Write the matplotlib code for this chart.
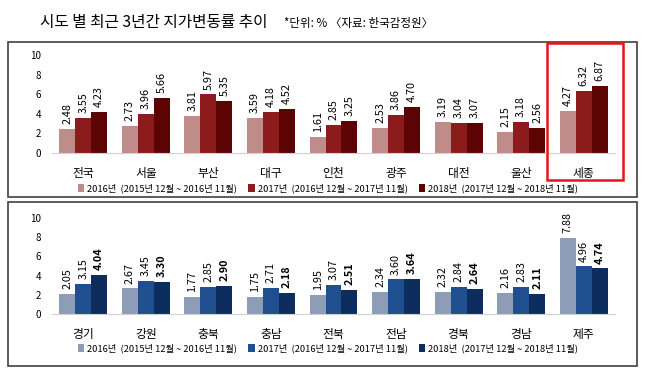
import numpy as np
import matplotlib
matplotlib.use("Agg")
import matplotlib.pyplot as plt
from matplotlib.patches import Rectangle

plt.rcParams['font.family'] = ['Noto Sans CJK KR', 'DejaVu Sans']

# 데이터
top_regions = ['전국', '서울', '부산', '대구', '인천', '광주', '대전', '울산', '세종']
top_2016 = [2.48, 2.73, 3.81, 3.59, 1.61, 2.53, 3.19, 2.15, 4.27]
top_2017 = [3.55, 3.96, 5.97, 4.18, 2.85, 3.86, 3.04, 3.18, 6.32]
top_2018 = [4.23, 5.66, 5.35, 4.52, 3.25, 4.70, 3.07, 2.56, 6.87]

bot_regions = ['경기', '강원', '충북', '충남', '전북', '전남', '경북', '경남', '제주']
bot_2016 = [2.05, 2.67, 1.77, 1.75, 1.95, 2.34, 2.32, 2.16, 7.88]
bot_2017 = [3.15, 3.45, 2.85, 2.71, 3.07, 3.60, 2.84, 2.83, 4.96]
bot_2018 = [4.04, 3.30, 2.90, 2.18, 2.51, 3.64, 2.64, 2.11, 4.74]

legend_labels = ['2016년  (2015년 12월 ~ 2016년 11월)',
                 '2017년  (2016년 12월 ~ 2017년 11월)',
                 '2018년  (2017년 12월 ~ 2018년 11월)']

red_colors = ['#c08c8a', '#8c1c1c', '#5c0404']
blue_colors = ['#8d9db7', '#1f4f8e', '#0c2d5e']

W, H = 648, 381
fig = plt.figure(figsize=(6.48, 3.81), dpi=100)


def fx(px):
    return px / W


def fy(py):
    return 1 - py / H


# 제목
fig.text(fx(40), fy(23), '시도 별 최근 3년간 지가변동률 추이', fontsize=11.3, va='center')
fig.text(fx(284), fy(24), '*단위: % 〈자료: 한국감정원〉', fontsize=8.3, va='center')

# 패널 테두리
for y0, y1 in [(42, 197), (202, 366)]:
    fig.patches.append(Rectangle((fx(8), fy(y1)), fx(637) - fx(8), fy(y0) - fy(y1),
                                 transform=fig.transFigure, fill=False,
                                 edgecolor='#404040', linewidth=1.2))


def panel(rect, regions, series, colors, bold_last):
    ax = fig.add_axes(rect)
    x = np.arange(len(regions))
    w = 0.255
    for i, (vals, c) in enumerate(zip(series, colors)):
        bars = ax.bar(x + (i - 1) * w, vals, w, color=c, label=legend_labels[i])
        for b, v in zip(bars, vals):
            ax.annotate('%.2f' % v, (b.get_x() + b.get_width() / 2, v),
                        xytext=(0, 3.5), textcoords='offset points',
                        rotation=90, ha='center', va='bottom', fontsize=7.8,
                        fontweight='bold' if (bold_last and i == 2) else 'normal',
                        annotation_clip=False)
    ax.set_xlim(-0.5, len(regions) - 0.5)
    ax.set_ylim(0, 10)
    ax.set_yticks([0, 2, 4, 6, 8, 10])
    ax.set_xticks(x)
    ax.set_xticklabels(regions, fontsize=8.5)
    ax.tick_params(axis='x', length=0, pad=10)
    ax.tick_params(axis='y', length=0, labelsize=7, pad=8)
    for s in ['top', 'right', 'left']:
        ax.spines[s].set_visible(False)
    ax.spines['bottom'].set_color('#d0d0d0')
    ax.set_facecolor('none')
    ax.legend(loc='upper center', bbox_to_anchor=(0.49, -0.27), ncol=3, frameon=False,
              fontsize=6.7, handlelength=0.7, handleheight=0.9, handletextpad=0.3,
              columnspacing=1.2, borderaxespad=0)
    return ax


panel([fx(52), fy(153), fx(615) - fx(52), fy(55) - fy(153)],
      top_regions, [top_2016, top_2017, top_2018], red_colors, False)
panel([fx(52), fy(314), fx(615) - fx(52), fy(218) - fy(314)],
      bot_regions, [bot_2016, bot_2017, bot_2018], blue_colors, True)

# 세종 강조 박스
fig.patches.append(Rectangle((fx(547), fy(180)), fx(623) - fx(547), fy(43) - fy(180),
                             transform=fig.transFigure, fill=False,
                             edgecolor='#e8141c', linewidth=1.8))

fig.savefig('out.png', dpi=100)
